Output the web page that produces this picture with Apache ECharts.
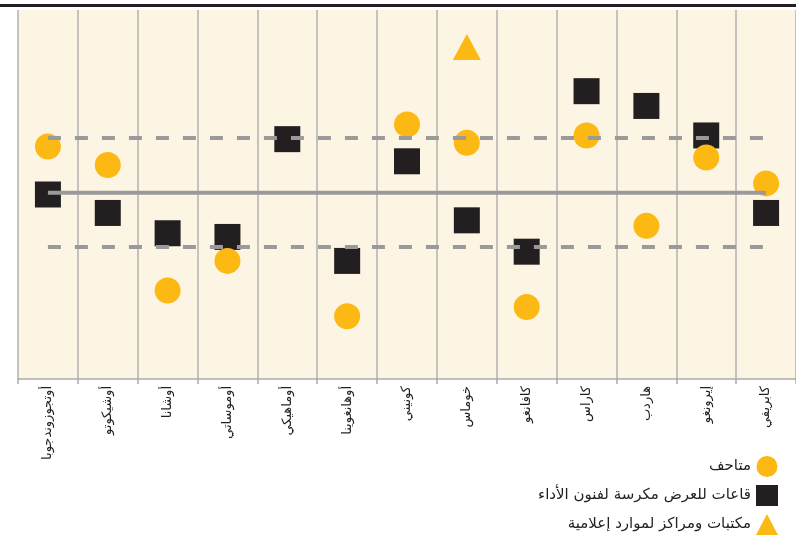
<!DOCTYPE html>
<html lang="ar">
<head>
<meta charset="UTF-8">
<title>Chart</title>
<script src="https://cdn.jsdelivr.net/npm/echarts@6/dist/echarts.min.js"></script>
<style>
  html, body { margin: 0; padding: 0; background: #fff; }
  #main { width: 796px; height: 541px; }
</style>
</head>
<body>
<div id="main"></div>
<script>
// المناطق
var regions = ['أوتجوزوندجوبا', 'أوشيكوتو', 'أوشانا', 'أوموساتي', 'أوماهيكي', 'أوهانغوينا',
  'كونيني', 'خوماس', 'كافانغو', 'كاراس', 'هاردب', 'إيرونغو', 'كابريفي'];

// القيم (مقدرة من الصورة)
var museums = [63, 58, 24, 32, null, 17, 69, 64, 19.5, 66, 41.5, 60, 53];
var venues = [50, 45, 39.5, 38.5, 65, 32, 59, 43, 34.5, 78, 74, 66, 45];
var libraries = [null, null, null, null, null, null, null, 90, null, null, null, null, null];

var avgLine = [50.5, 50.5, 50.5, 50.5, 50.5, 50.5, 50.5, 50.5, 50.5, 50.5, 50.5, 50.5, 50.5];
var upperLine = [65.3, 65.3, 65.3, 65.3, 65.3, 65.3, 65.3, 65.3, 65.3, 65.3, 65.3, 65.3, 65.3];
var lowerLine = [35.8, 35.8, 35.8, 35.8, 35.8, 35.8, 35.8, 35.8, 35.8, 35.8, 35.8, 35.8, 35.8];

var legendNames = ['متاحف', 'قاعات للعرض مكرسة لفنون الأداء', 'مكتبات ومراكز لموارد إعلامية'];

var yellow = '#fdb913';
var dark = '#231f20';
var grey = '#9a9a9a';

var chart = echarts.init(document.getElementById('main'));

var option = {
  animation: false,
  graphic: [{
    type: 'rect',
    shape: { x: 0, y: 4, width: 796, height: 3 },
    style: { fill: dark }
  }],
  legend: {
    orient: 'vertical',
    right: 18,
    top: 456,
    padding: 0,
    align: 'right',
    itemWidth: 22,
    itemHeight: 21,
    itemGap: 8,
    textStyle: { fontSize: 15, color: dark, fontFamily: 'DejaVu Sans, sans-serif' },
    data: [
      { name: legendNames[0], icon: 'circle' },
      { name: legendNames[1], icon: 'rect' },
      { name: legendNames[2], icon: 'triangle' }
    ]
  },
  grid: {
    left: 18, right: -2, top: 10, bottom: 162,
    show: true, backgroundColor: '#fdf5e4', borderWidth: 0
  },
  xAxis: {
    type: 'category',
    data: regions,
    boundaryGap: true,
    axisLine: { lineStyle: { color: '#aaaaaa', width: 1.5 } },
    axisTick: { show: true, length: 5, lineStyle: { color: '#aaaaaa', width: 1.5 } },
    splitLine: { show: true, lineStyle: { color: '#b0b0b0', width: 1.5 } },
    axisLabel: {
      rotate: 90, interval: 0, margin: 7,
      fontSize: 13, color: dark, fontFamily: 'DejaVu Sans, sans-serif'
    }
  },
  yAxis: {
    type: 'value', min: 0, max: 100,
    show: false, splitLine: { show: false }
  },
  series: [
    {
      name: legendNames[0], type: 'scatter', data: museums,
      symbol: 'circle', symbolSize: 26, itemStyle: { color: yellow, opacity: 1 }, z: 3
    },
    {
      name: legendNames[1], type: 'scatter', data: venues,
      symbol: 'rect', symbolSize: 26, itemStyle: { color: dark, opacity: 1 }, z: 2
    },
    {
      name: legendNames[2], type: 'scatter', data: libraries,
      symbol: 'triangle', symbolSize: [28, 26], itemStyle: { color: yellow, opacity: 1 }, z: 3
    },
    {
      name: 'avg', type: 'line', data: avgLine, symbol: 'none', z: 5,
      lineStyle: { color: grey, width: 4 }
    },
    {
      name: 'upper', type: 'line', data: upperLine, symbol: 'none', z: 5,
      lineStyle: { color: grey, width: 4, type: [13, 14] }
    },
    {
      name: 'lower', type: 'line', data: lowerLine, symbol: 'none', z: 5,
      lineStyle: { color: grey, width: 4, type: [13, 14] }
    }
  ]
};

chart.setOption(option);
</script>
</body>
</html>
